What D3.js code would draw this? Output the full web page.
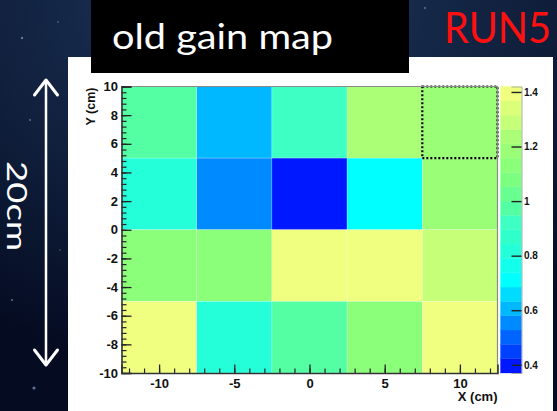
<!DOCTYPE html>
<html>
<head>
<meta charset="utf-8">
<script src="https://cdn.jsdelivr.net/npm/d3@7/dist/d3.min.js"></script>
<style>
  html, body { margin: 0; padding: 0; background: #07102a; }
  svg { display: block; }
  .tick text { font-family: "Liberation Sans", Arial, sans-serif; font-weight: bold; fill: #111; }
</style>
</head>
<body>
<svg id="chart" width="557" height="411"></svg>
<script>
// Detector pad gain map: 5 x 4 pads, 5 cm each
const xCenters = [-10, -5, 0, 5, 10];
const yCenters = [7.5, 2.5, -2.5, -7.5];
const gainRow1 = [0.98, 0.62, 0.92, 1.24, 1.18];   // y = 7.5
const gainRow2 = [0.81, 0.55, 0.37, 0.71, 1.17];   // y = 2.5
const gainRow3 = [1.13, 1.12, 1.42, 1.40, 1.29];   // y = -2.5
const gainRow4 = [1.38, 0.82, 0.97, 1.11, 1.39];   // y = -7.5
const gainRows = [gainRow1, gainRow2, gainRow3, gainRow4];

const xTicks = [-10, -5, 0, 5, 10];
const yTicks = [-10, -8, -6, -4, -2, 0, 2, 4, 6, 8, 10];
const zTicks = [0.4, 0.6, 0.8, 1.0, 1.2, 1.4];

// 20-step palette, low to high
const palette = [
  "#0018ff", "#0040ff", "#0064ff", "#008aff", "#00b8ff",
  "#00dcff", "#00ffff", "#12ffec", "#24ffda", "#30ffcc",
  "#3effc4", "#54ffa4", "#68ff90", "#7cff80", "#8cff7a",
  "#9aff77", "#abff77", "#c6ff78", "#dcff7a", "#f0ff80"
];

const cells = [];
gainRows.forEach((row, j) => row.forEach((v, i) => cells.push({ x: xCenters[i], y: yCenters[j], v })));

const svg = d3.select("#chart");
const plainInt = d => String(d);   // hyphen-minus, as ROOT prints it

// ---- backdrop ----
const defs = svg.append("defs");
const bg = defs.append("radialGradient").attr("id", "sky")
  .attr("cx", "0.45").attr("cy", "0.0").attr("r", "0.9");
bg.append("stop").attr("offset", "0").attr("stop-color", "#2a4166");
bg.append("stop").attr("offset", "0.35").attr("stop-color", "#152848");
bg.append("stop").attr("offset", "1").attr("stop-color", "#050c22");
svg.append("rect").attr("width", 557).attr("height", 411).attr("fill", "url(#sky)");

const stars = [[22, 38, 1.2], [58, 22, 0.8], [30, 120, 0.9], [12, 300, 1], [34, 388, 1.6],
               [70, 330, 0.8], [425, 8, 0.9], [520, 40, 0.8], [8, 170, 0.7], [60, 250, 0.7]];
svg.append("g").selectAll("circle").data(stars).join("circle")
  .attr("cx", d => d[0]).attr("cy", d => d[1]).attr("r", d => d[2])
  .attr("fill", "#9fb4d8").attr("opacity", 0.6);

// white slide panel
svg.append("rect").attr("x", 68).attr("y", 57).attr("width", 485).attr("height", 360).attr("fill", "#ffffff");

// ---- scales ----
const plot = { left: 121.5, right: 497.5, top: 86.5, bottom: 373 };
const x = d3.scaleLinear().domain([-12.5, 12.5]).range([plot.left, plot.right]);
const y = d3.scaleLinear().domain([-10, 10]).range([plot.bottom, plot.top]);
const zExtent = d3.extent(cells, d => d.v);
const color = d3.scaleQuantize().domain(zExtent).range(palette);
const z = d3.scaleLinear().domain(zExtent).range([plot.bottom, plot.top]);

// ---- heatmap cells ----
const half = 2.5;
svg.append("g").selectAll("rect").data(cells).join("rect")
  .attr("x", d => x(d.x - half))
  .attr("y", d => y(d.y + half))
  .attr("width", d => x(d.x + half) - x(d.x - half))
  .attr("height", d => y(d.y - half) - y(d.y + half))
  .attr("fill", d => color(d.v))
  .attr("stroke", "rgba(255,255,255,0.35)").attr("stroke-width", 0.6);

// highlighted pad
svg.append("rect")
  .attr("x", x(7.5)).attr("y", y(10))
  .attr("width", x(12.5) - x(7.5)).attr("height", y(5) - y(10))
  .attr("fill", "none").attr("stroke", "#000").attr("stroke-width", 2.2)
  .attr("stroke-dasharray", "2,2");

// frame
svg.append("path")
  .attr("d", `M${plot.left},${plot.top}H${plot.right}V${plot.bottom}`)
  .attr("fill", "none").attr("stroke", "#8a8a8a").attr("stroke-width", 1.2);

// ---- axes ----
const yMinor = d3.range(-10, 10.001, 0.4).map(v => +v.toFixed(2));
svg.append("g").attr("transform", `translate(${plot.left},0)`)
  .call(d3.axisLeft(y).tickValues(yMinor).tickSize(-5).tickFormat(""))
  .call(g => g.select(".domain").remove())
  .call(g => g.selectAll("line").attr("stroke", "#222").attr("stroke-width", 1.2));
svg.append("g").attr("transform", `translate(${plot.left},0)`)
  .call(d3.axisLeft(y).tickValues(yTicks).tickSize(-10).tickPadding(3.5).tickFormat(plainInt))
  .call(g => g.select(".domain").attr("stroke", "#333").attr("stroke-width", 1.6))
  .call(g => g.selectAll("line").attr("stroke", "#222").attr("stroke-width", 1.3))
  .call(g => g.selectAll("text").style("font-size", "13px"));

const xMinor = d3.range(-12, 12.001, 1);
svg.append("g").attr("transform", `translate(0,${plot.bottom})`)
  .call(d3.axisBottom(x).tickValues(xMinor).tickSize(-4.5).tickFormat(""))
  .call(g => g.select(".domain").remove())
  .call(g => g.selectAll("line").attr("stroke", "#222").attr("stroke-width", 1.2));
svg.append("g").attr("transform", `translate(0,${plot.bottom})`)
  .call(d3.axisBottom(x).tickValues(xTicks).tickSize(-8.5).tickPadding(5.5).tickFormat(plainInt))
  .call(g => g.select(".domain").attr("stroke", "#333").attr("stroke-width", 1.6))
  .call(g => g.selectAll("line").attr("stroke", "#222").attr("stroke-width", 1.3))
  .call(g => g.selectAll("text").style("font-size", "13px"));

// axis titles
svg.append("text")
  .attr("transform", `translate(95,${plot.top + 1}) rotate(-90)`)
  .attr("text-anchor", "end")
  .style("font-family", "'Liberation Sans', Arial, sans-serif").style("font-weight", "bold")
  .style("font-size", "12.5px").attr("fill", "#111")
  .text("Y (cm)");
svg.append("text")
  .attr("x", plot.right).attr("y", 401)
  .attr("text-anchor", "end")
  .style("font-family", "'Liberation Sans', Arial, sans-serif").style("font-weight", "bold")
  .style("font-size", "13px").attr("fill", "#111")
  .text("X (cm)");

// ---- colour bar ----
const bar = { left: 500.5, right: 521.5 };
const bands = color.range().map(c => {
  const [a, b] = color.invertExtent(c);
  return { c, a, b };
});
svg.append("g").selectAll("rect").data(bands).join("rect")
  .attr("x", bar.left).attr("width", bar.right - bar.left)
  .attr("y", d => z(d.b)).attr("height", d => z(d.a) - z(d.b))
  .attr("fill", d => d.c)
  .attr("stroke", d => d.c).attr("stroke-width", 0.3);
svg.append("g").attr("transform", `translate(${bar.right},0)`)
  .call(d3.axisRight(z).tickValues(zTicks).tickSize(-10).tickPadding(2.5)
    .tickFormat(d => d === 1 ? "1" : d3.format(".1f")(d)))
  .call(g => g.select(".domain").attr("stroke", "#999").attr("stroke-width", 0.8))
  .call(g => g.selectAll("line").attr("stroke", "#222").attr("stroke-width", 1.4))
  .call(g => g.selectAll("text").style("font-size", "10px"));

// ---- slide annotations ----
svg.append("rect").attr("x", 91).attr("y", 0).attr("width", 318).attr("height", 73).attr("fill", "#000");
svg.append("text")
  .attr("x", 112).attr("y", 49)
  .attr("textLength", 221).attr("lengthAdjust", "spacingAndGlyphs")
  .style("font-family", "Lato, 'Open Sans', sans-serif").style("font-size", "34px")
  .attr("fill", "#ffffff")
  .text("old gain map");
svg.append("text")
  .attr("x", 444).attr("y", 43)
  .attr("textLength", 107).attr("lengthAdjust", "spacingAndGlyphs")
  .style("font-family", "Lato, 'Open Sans', sans-serif").style("font-size", "42px")
  .attr("fill", "#ff1010")
  .text("RUN5");

// 20 cm span arrow
const arrow = svg.append("g").attr("stroke", "#ffffff").attr("fill", "none")
  .attr("stroke-linecap", "round").attr("stroke-linejoin", "round");
arrow.append("line").attr("x1", 46).attr("x2", 46).attr("y1", 81).attr("y2", 364).attr("stroke-width", 2.5);
arrow.append("polyline").attr("points", "34.5,95 46,80 57.5,95").attr("stroke-width", 3);
arrow.append("polyline").attr("points", "34.5,350 46,365 57.5,350").attr("stroke-width", 3);

svg.append("text")
  .attr("transform", "translate(16,206) rotate(90)")
  .attr("text-anchor", "middle").attr("dy", "0.35em")
  .attr("textLength", 90).attr("lengthAdjust", "spacingAndGlyphs")
  .style("font-family", "Lato, 'Open Sans', sans-serif").style("font-size", "27px")
  .attr("fill", "#ffffff")
  .text("20cm");
</script>
</body>
</html>
